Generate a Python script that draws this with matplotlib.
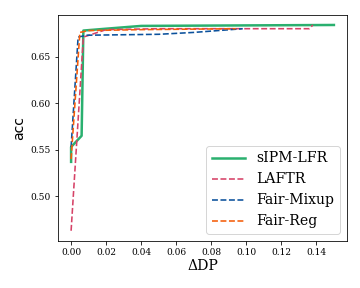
import matplotlib

matplotlib.use("Agg")
import matplotlib.pyplot as plt

plt.rcParams["font.family"] = "DejaVu Serif"

sipm_x = [0.0, 0.0, 0.006, 0.007, 0.02, 0.04, 0.15]
sipm_y = [0.537, 0.553, 0.565, 0.678, 0.680, 0.683, 0.684]

laftr_x = [0.0, 0.007, 0.02, 0.05, 0.10, 0.136, 0.138]
laftr_y = [0.463, 0.671, 0.679, 0.680, 0.680, 0.680, 0.684]

mixup_x = [0.0, 0.004, 0.009, 0.05, 0.07, 0.098]
mixup_y = [0.553, 0.671, 0.673, 0.674, 0.676, 0.680]

reg_x = [0.0, 0.005, 0.01, 0.04, 0.094]
reg_y = [0.540, 0.676, 0.678, 0.679, 0.680]

fig, ax = plt.subplots(figsize=(5, 4), dpi=72)
fig.subplots_adjust(left=0.161, right=0.964, top=0.949, bottom=0.163)

ax.plot(sipm_x, sipm_y, color="#2ab06f", lw=2.5, label="sIPM-LFR")
ax.plot(laftr_x, laftr_y, color="#d64267", lw=1.6, ls="--", label="LAFTR")
ax.plot(mixup_x, mixup_y, color="#0b519c", lw=1.6, ls="--", label="Fair-Mixup")
ax.plot(reg_x, reg_y, color="#f55d0a", lw=1.6, ls="--", label="Fair-Reg")

ax.set_xticks([0.0, 0.02, 0.04, 0.06, 0.08, 0.10, 0.12, 0.14])
ax.set_yticks([0.50, 0.55, 0.60, 0.65])
ax.tick_params(labelsize=9)
ax.set_xlabel("ΔDP", fontsize=14, labelpad=2)
ax.set_ylabel("acc", fontsize=14, family="DejaVu Sans")
ax.legend(loc="lower right", fontsize=14, handlelength=2.4)

fig.savefig("out.png", dpi=72)
